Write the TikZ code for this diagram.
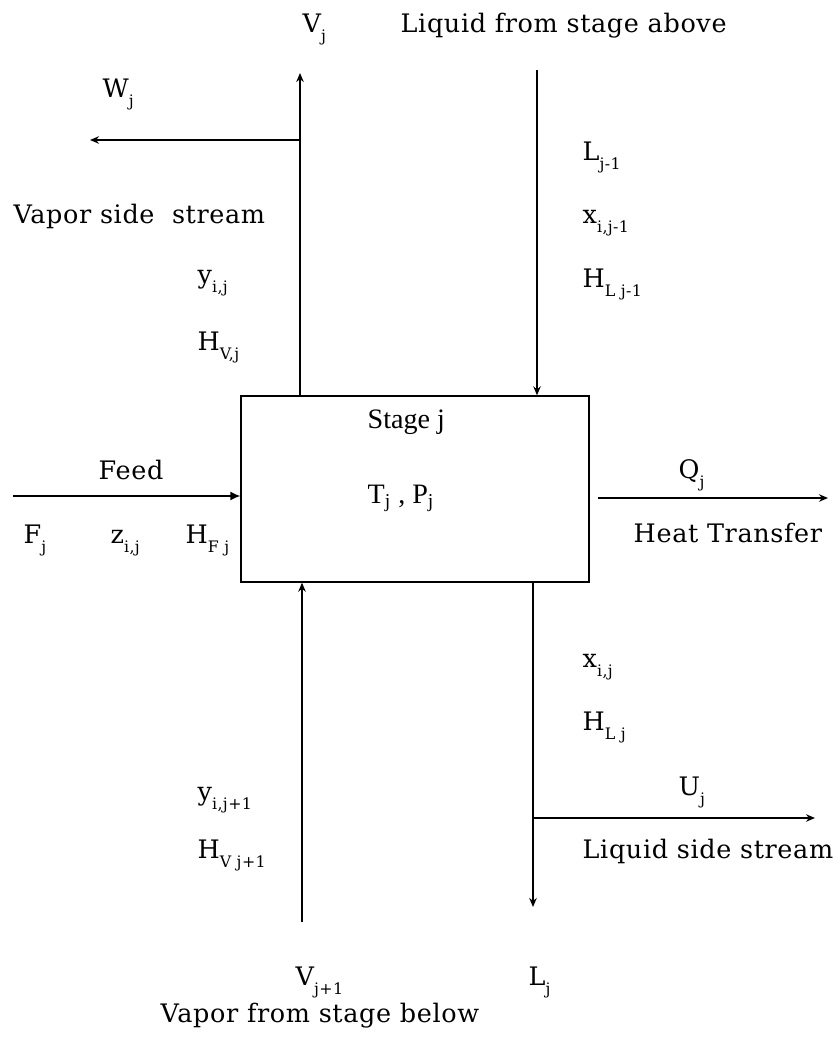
\documentclass[tikz,border=0pt]{standalone}
\usepackage{fontspec}
\setmainfont{DejaVu Serif}[LetterSpace=2.5]
\newfontfamily\timesfont{Liberation Serif}
\usetikzlibrary{arrows.meta,calc,positioning}
\newcommand{\lsub}[1]{\raisebox{-5.5pt}{\fontsize{9}{9}\selectfont #1}}

\begin{document}
\begin{tikzpicture}[x=0.02cm,y=-0.02cm,line width=0.8pt,>={Stealth[length=1.8mm,width=1.5mm]},
  lbl/.style={anchor=base west,inner sep=0pt,font=\fontsize{14.5}{16}\selectfont},
  tlbl/.style={anchor=base west,inner sep=0pt,font=\timesfont\fontsize{16}{18}\selectfont}]
\useasboundingbox (0,0) rectangle (839,1058);
% stage box
\node[draw,minimum width=6.96cm,minimum height=3.72cm,inner sep=0pt] (stage) at (415,489) {};
\node[tlbl] (stagej) at (367,428) {Stage j};
\node[tlbl] (tp) at (367,503) {T\textsubscript{j} , P\textsubscript{j}};
% vapor leaving, side draw W
\coordinate (vtop) at (300,73);
\coordinate (wbr) at (300,140);
\coordinate (wend) at (90,140);
\draw[->] (stage.north -| vtop) -- (vtop);
\draw[->] (wbr) -- (wend);
\node[lbl] (vj) at (302,32) {V\lsub{j}};
\node[lbl] (wj) at (102,97) {W\lsub{j}};
\node[lbl] (vside) at (13,223) {Vapor side\ \ stream};
\node[lbl] (yij) at (197,283) {y\lsub{i,j}};
\node[lbl] (hvj) at (197,350) {H\lsub{V,j}};
% liquid from above
\coordinate (ltop) at (537,70);
\draw[->] (ltop) -- (ltop |- stage.north);
\node[lbl] (liqabove) at (400,32) {Liquid from stage above};
\node[lbl] (lj1) at (582,160) {L\lsub{j-1}};
\node[lbl] (xij1) at (582,223) {x\lsub{i,j-1}};
\node[lbl] (hlj1) at (582,287) {H\lsub{L j-1}};
% feed
\coordinate (fstart) at (13,496);
\draw[-{Latex[length=2mm,width=1.8mm]}] (fstart) -- (fstart -| stage.west);
\node[lbl] (feed) at (98,479) {Feed};
\node[lbl] (fj) at (23,543) {F\lsub{j}};
\node[lbl] (zij) at (110,543) {z\lsub{i,j}};
\node[lbl] (hfj) at (185,543) {H\lsub{F j}};
% heat
\coordinate (qstart) at (598,498);
\coordinate (qend) at (828,498);
\draw[->] (qstart) -- (qend);
\node[lbl] (qj) at (678,478) {Q\lsub{j}};
\node[lbl] (heat) at (633,542) {Heat Transfer};
% vapor from below
\coordinate (vbot) at (302,922);
\draw[->] (vbot) -- (vbot |- stage.south);
\node[lbl] (yij1) at (197,800) {y\lsub{i,j+1}};
\node[lbl] (hvj1) at (197,858) {H\lsub{V j+1}};
\node[lbl] (vj1) at (295,985) {V\lsub{j+1}};
\node[lbl] (vbelow) at (160,1022) {Vapor from stage below};
% liquid leaving, side draw U
\coordinate (lbot) at (533,907);
\coordinate (ubr) at (533,818);
\coordinate (uend) at (815,818);
\draw[->] (stage.south -| lbot) -- (lbot);
\draw[->] (ubr) -- (uend);
\node[lbl] (xij) at (582,667) {x\lsub{i,j}};
\node[lbl] (hlj) at (582,730) {H\lsub{L j}};
\node[lbl] (uj) at (678,795) {U\lsub{j}};
\node[lbl] (lside) at (582,858) {Liquid side stream};
\node[lbl] (ljbot) at (528,985) {L\lsub{j}};
\end{tikzpicture}
\end{document}
